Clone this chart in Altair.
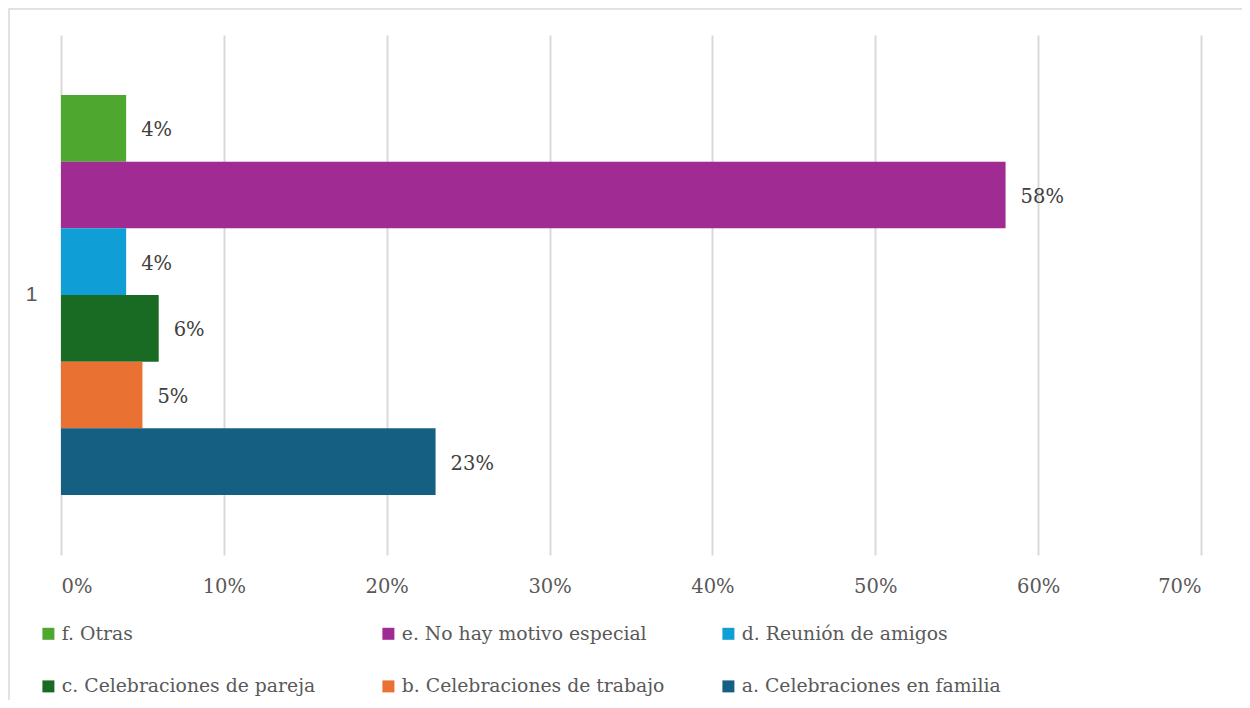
import altair as alt
import pandas as pd

series = [
    "f. Otras",
    "e. No hay motivo especial",
    "d. Reunión de amigos",
    "c. Celebraciones de pareja",
    "b. Celebraciones de trabajo",
    "a. Celebraciones en familia",
]
values = [0.04, 0.58, 0.04, 0.06, 0.05, 0.23]
colors = ["#4EA72E", "#A02B93", "#0F9ED5", "#196B24", "#E97132", "#156082"]
category = ["1"] * 6
ticks = [0, 0.1, 0.2, 0.3, 0.4, 0.5, 0.6, 0.7]

df = pd.DataFrame({"cat": category, "series": series, "value": values})

W, H = 1140, 520
SERIF = "DejaVu Serif"

y_enc = alt.Y("cat:N", title=None,
              scale=alt.Scale(paddingInner=0, paddingOuter=0.15),
              axis=alt.Axis(domain=False, ticks=False, labelPadding=24,
                            labelFont="Liberation Sans", labelFontSize=21,
                            labelColor="#595959", labelAngle=0))
yoff = alt.YOffset("series:N", sort=series,
                   scale=alt.Scale(paddingInner=0, paddingOuter=0))

bars = alt.Chart(df).mark_bar(size=66.67).encode(
    x=alt.X("value:Q", title=None,
            scale=alt.Scale(domain=[0, 0.7], nice=False),
            axis=alt.Axis(values=ticks, format=".0%", domain=False, ticks=False,
                          grid=True, gridColor="#d9d9d9", gridWidth=2,
                          labelPadding=22, labelFont=SERIF,
                          labelFontSize=19.5, labelColor="#595959")),
    y=y_enc,
    yOffset=yoff,
    color=alt.Color("series:N",
                    scale=alt.Scale(domain=series, range=colors),
                    legend=alt.Legend(title=None, orient="none", legendX=-22, legendY=589,
                                      direction="horizontal", columns=3, gridAlign="all",
                                      columnPadding=54, rowPadding=33,
                                      symbolType="square", symbolSize=144,
                                      symbolStrokeWidth=0, labelOffset=4,
                                      labelFont=SERIF, labelFontSize=18.8,
                                      labelColor="#595959", labelLimit=400, padding=0)),
)

labels = alt.Chart(df).mark_text(align="left", baseline="middle", dx=15, dy=2,
                                 font=SERIF, fontSize=19.5,
                                 color="#404040").encode(
    x=alt.X("value:Q"),
    y=alt.Y("cat:N"),
    yOffset=yoff,
    text=alt.Text("value:Q", format=".0%"),
)

border = alt.Chart(alt.Data(values=[{}])).mark_rect(
    filled=False, stroke="#d9d9d9", strokeWidth=1.5
).encode(x=alt.value(-52), x2=alt.value(1230), y=alt.value(-26), y2=alt.value(720))

chart = alt.layer(border, bars, labels).properties(
    width=W, height=H,
    padding={"left": 53, "top": 27, "right": 41, "bottom": 145},
    autosize=alt.AutoSizeParams(type="none"),
).configure_view(stroke=None)

chart.save("out.html", embed_options={"renderer": "svg", "actions": False})
